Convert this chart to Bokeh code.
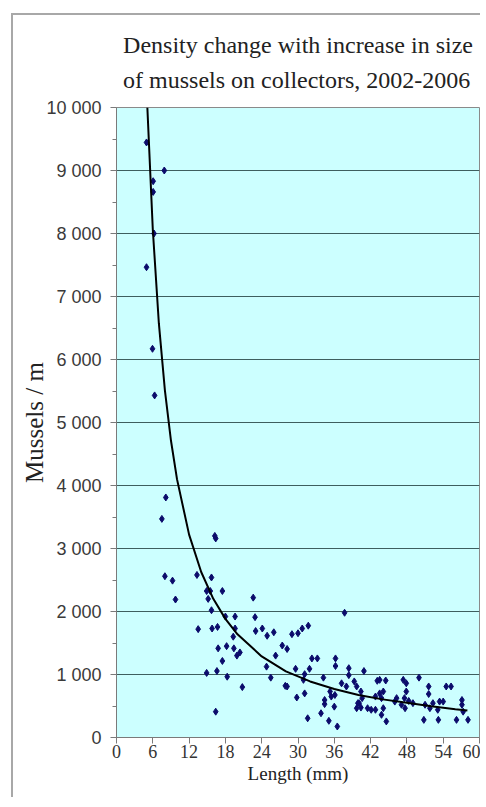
from bokeh.plotting import figure
from bokeh.models import Range1d, FixedTicker, Title
from bokeh.embed import file_html
from bokeh.resources import INLINE

# Scatter data: mussel length (mm) and density (mussels / m)
length_mm = [4.96, 7.9, 6.06, 6.06, 6.2, 4.96, 5.95, 6.3, 8.15, 7.5,
             16.25, 16.4, 8.0, 9.26, 13.3, 15.7, 9.75, 14.9, 15.5, 17.5,
             15.15, 15.7, 22.6, 18.0, 19.6, 22.9, 13.5, 15.8, 16.7, 19.6,
             23.0, 24.1, 24.9, 26.0, 19.3, 16.8, 18.2, 19.4, 20.4, 19.9,
             17.5, 27.4, 26.3, 24.8, 14.9, 16.6, 18.3, 25.5, 20.8, 27.9,
             16.4, 37.7, 29.0, 30.0, 30.7, 31.7, 28.2, 32.3, 33.2, 36.2,
             36.2, 29.6, 31.1, 31.9, 30.9, 34.2, 38.4, 38.4, 40.9, 37.2,
             38.0, 39.3, 39.7, 28.2, 35.3, 36.1, 35.5, 29.8, 31.1, 34.4,
             34.4, 36.0, 33.8, 31.6, 35.1, 36.5, 40.4, 40.6, 40.1, 40.4,
             41.5, 42.1, 43.1, 42.8, 43.5, 44.5, 44.1, 42.8, 44.1, 43.8,
             44.6, 47.4, 47.9, 50.0, 47.9, 46.3, 46.0, 47.1, 48.3, 49.0,
             47.7, 51.6, 51.6, 51.0, 51.8, 52.3, 53.4, 54.0, 54.5, 55.3,
             53.1, 50.8, 53.2, 56.2, 57.1, 57.1, 57.3, 58.1, 39.7, 39.9,
             43.8, 43.5, 47.6]
mussels_per_m = [9445, 9000, 8830, 8660, 8000, 7465, 6170, 5430, 3810, 3470,
                 3200, 3160, 2560, 2490, 2580, 2540, 2190, 2325, 2325, 2325,
                 2200, 2020, 2220, 1920, 1920, 1910, 1720, 1730, 1755, 1730,
                 1690, 1730, 1615, 1670, 1600, 1415, 1450, 1415, 1350, 1300,
                 1215, 1460, 1300, 1125, 1025, 1055, 965, 950, 800, 820,
                 410, 1980, 1640, 1655, 1730, 1775, 1405, 1255, 1255, 1255,
                 1135, 1090, 1005, 1090, 915, 950, 1100, 990, 1055, 860,
                 810, 890, 810, 810, 730, 675, 650, 635, 700, 595,
                 530, 490, 385, 305, 265, 175, 730, 625, 545, 475,
                 465, 440, 900, 650, 915, 905, 730, 440, 465, 360,
                 255, 915, 860, 950, 730, 625, 570, 520, 580, 545,
                 465, 810, 690, 520, 465, 545, 570, 570, 810, 810,
                 440, 280, 280, 280, 595, 520, 410, 280, 465, 545,
                 625, 700, 625]

# Power trendline
trend_length = [5.1, 6, 7, 8, 9, 10, 12, 14, 16, 18, 20, 24, 28, 32, 36,
                40, 44, 48, 52, 56, 58]
trend_density = [10000, 8064, 6576, 5510, 4714, 4101, 3220, 2627, 2201, 1883,
                 1638, 1287, 1049, 890, 770, 675, 605, 550, 495, 450, 430]

title_lines = ["Density change with increase in size",
               "of mussels on collectors, 2002-2006"]

x_ticks = [0, 6, 12, 18, 24, 30, 36, 42, 48, 54, 60]
y_ticks = [0, 1000, 2000, 3000, 4000, 5000, 6000, 7000, 8000, 9000, 10000]
y_minor = [500, 1500, 2500, 3500, 4500, 5500, 6500, 7500, 8500, 9500]
y_labels = ["0", "1 000", "2 000", "3 000", "4 000", "5 000",
            "6 000", "7 000", "8 000", "9 000", "10 000"]

p = figure(width=469, height=784, output_backend="svg", toolbar_location=None,
           x_range=Range1d(0, 60), y_range=Range1d(0, 10000),
           min_border_left=103, min_border_right=3, min_border_top=0,
           min_border_bottom=62)
p.styles = {"border-left": "2px solid #a8a8a8", "border-top": "2px solid #a8a8a8",
            "margin-left": "11px", "margin-top": "13px"}

p.background_fill_color = "#CCFFFF"
p.border_fill_color = "white"
p.outline_line_color = "#8a8a8a"
p.outline_line_width = 1

p.add_layout(Title(text="\n".join(title_lines), align="center",
                   text_font="Liberation Serif", text_font_size="24px",
                   text_font_style="normal", text_color="#222222",
                   text_line_height=1.34, standoff=29), "above")

# grid
p.xgrid.visible = False
p.ygrid.ticker = FixedTicker(ticks=y_ticks)
p.ygrid.grid_line_color = "#3d5e5e"
p.ygrid.grid_line_width = 1.2

# y axis
p.yaxis.ticker = FixedTicker(ticks=y_ticks, minor_ticks=y_minor)
p.yaxis.major_label_overrides = {t: l for t, l in zip(y_ticks, y_labels)}
p.yaxis.major_label_text_font = "Liberation Sans"
p.yaxis.major_label_text_font_size = "18px"
p.yaxis.major_label_text_color = "#3a3a3a"
p.yaxis.major_tick_out = 6
p.yaxis.major_tick_in = 0
p.yaxis.minor_tick_out = 4
p.yaxis.minor_tick_in = 0
p.yaxis.axis_line_color = "#7a7a7a"
p.yaxis.major_tick_line_color = "#7a7a7a"
p.yaxis.minor_tick_line_color = "#7a7a7a"
p.yaxis.major_label_standoff = 9
p.yaxis.axis_label = "Mussels / m"
p.yaxis.axis_label_text_font = "Liberation Serif"
p.yaxis.axis_label_text_font_size = "25px"
p.yaxis.axis_label_text_font_style = "normal"
p.yaxis.axis_label_text_color = "#222222"
p.yaxis.axis_label_standoff = -5

# x axis
p.xaxis.ticker = FixedTicker(ticks=x_ticks, minor_ticks=[])
p.xaxis.major_label_text_font = "Liberation Serif"
p.xaxis.major_label_text_font_size = "18px"
p.xaxis.major_label_text_color = "#333333"
p.xaxis.major_tick_out = 6
p.xaxis.major_tick_in = 0
p.xaxis.axis_line_color = "#7a7a7a"
p.xaxis.major_tick_line_color = "#7a7a7a"
p.xaxis.major_label_standoff = 1
p.xaxis.axis_label = "Length (mm)"
p.xaxis.axis_label_text_font = "Liberation Serif"
p.xaxis.axis_label_text_font_size = "19px"
p.xaxis.axis_label_text_font_style = "normal"
p.xaxis.axis_label_text_color = "#222222"
p.xaxis.axis_label_standoff = 2

p.scatter(length_mm, mussels_per_m, marker="diamond", size=7,
          fill_color="#0b0b6b", line_color="#0b0b6b")
p.line(trend_length, trend_density, line_color="black", line_width=2)

open("out.html", "w").write(file_html(p, INLINE))
